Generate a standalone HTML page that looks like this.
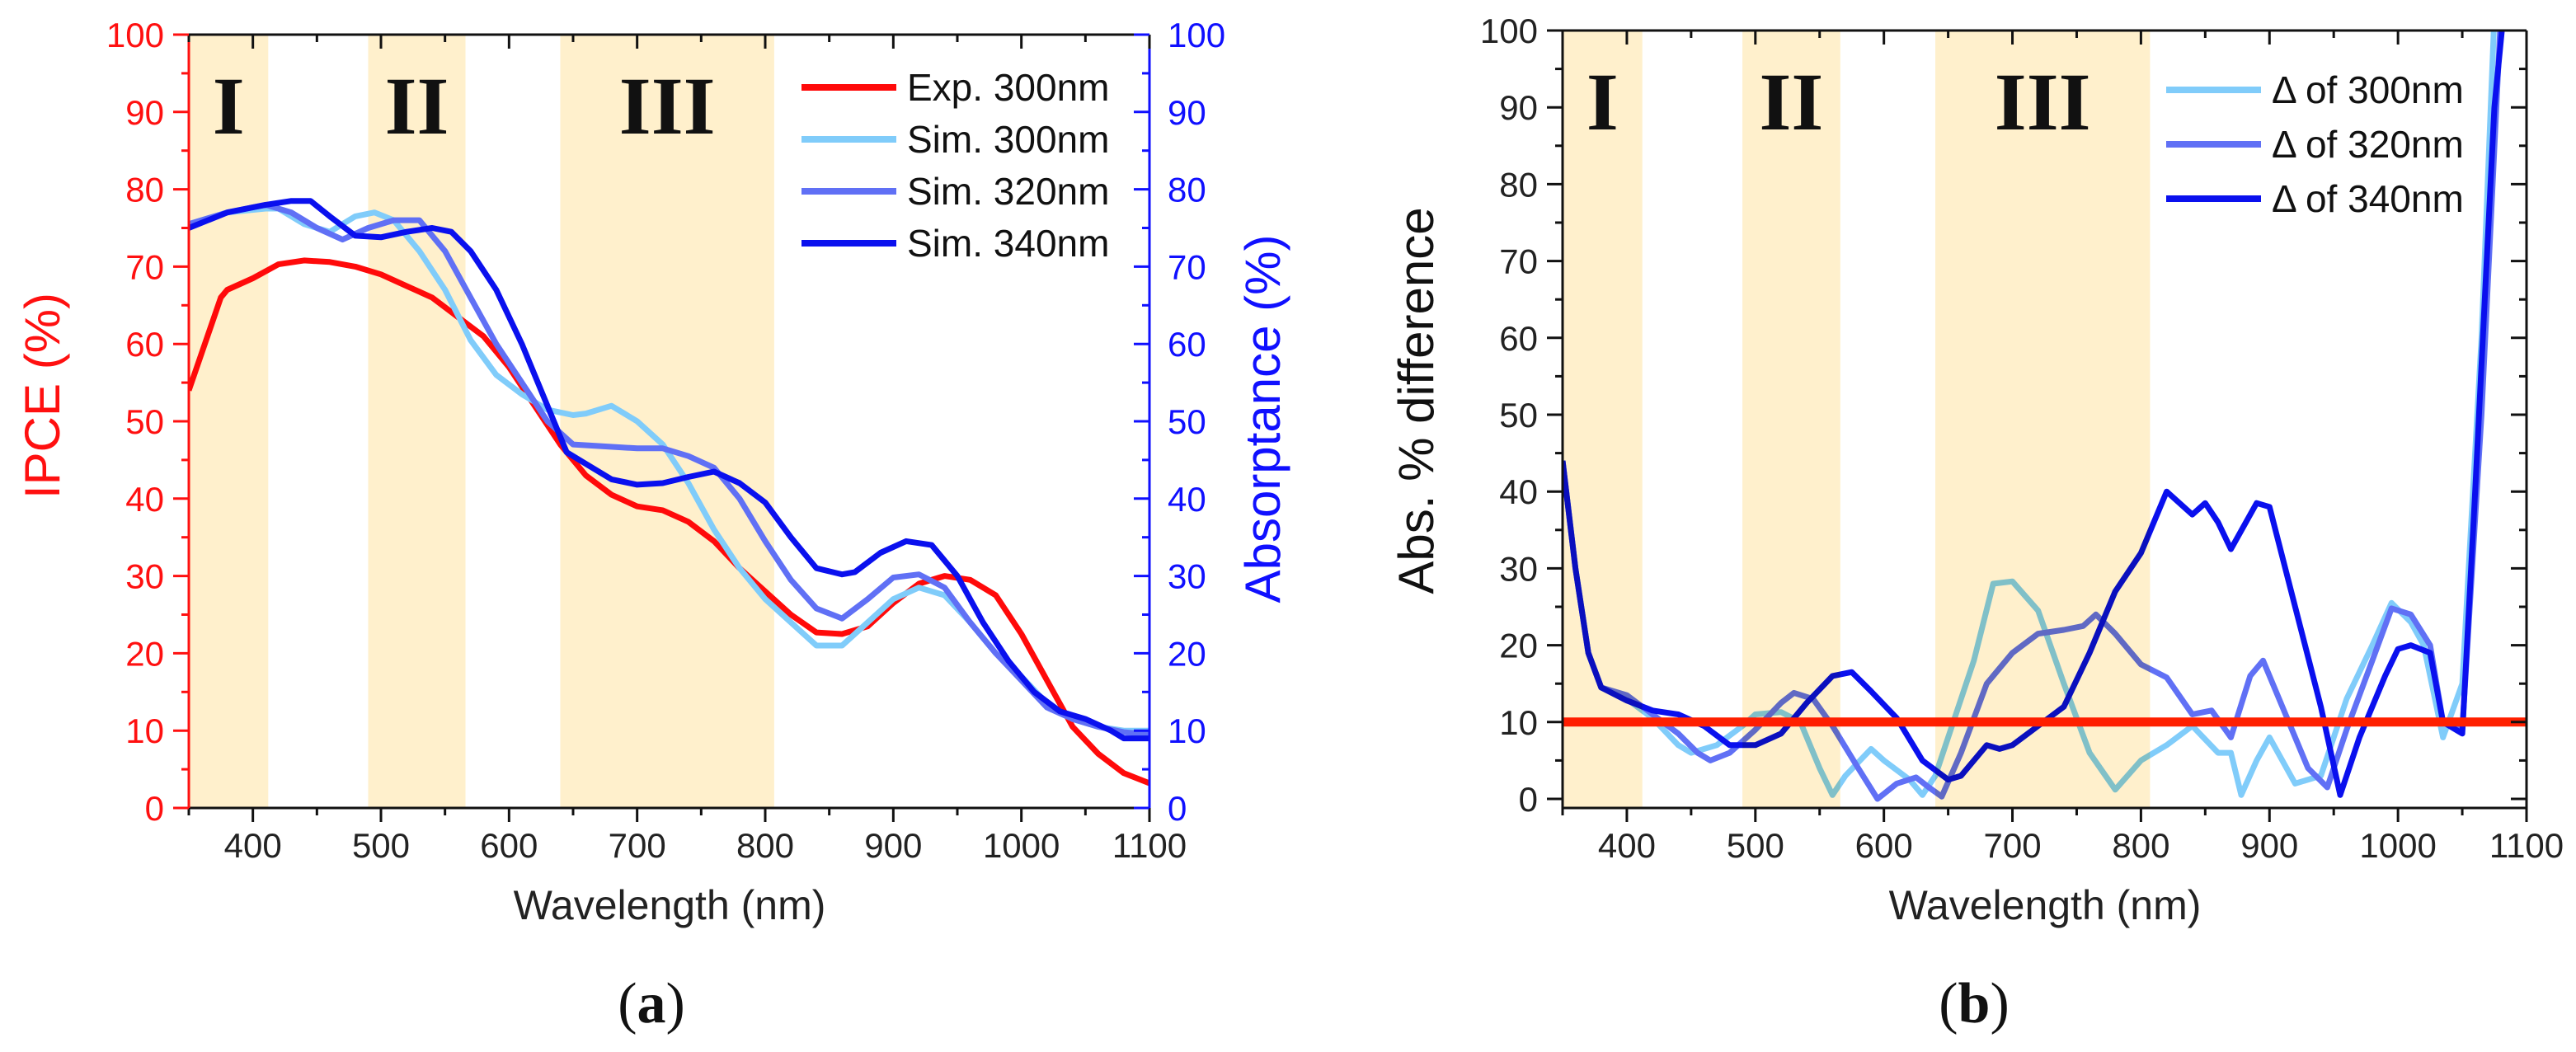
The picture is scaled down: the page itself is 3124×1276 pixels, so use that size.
<!DOCTYPE html>
<html><head><meta charset="utf-8">
<style>
html,body{margin:0;padding:0;background:#fff;}
svg{display:block;font-family:"Liberation Sans",Arial,sans-serif;}
</style></head>
<body>
<svg id="fig" width="3124" height="1276" viewBox="0 0 3124 1276" xmlns="http://www.w3.org/2000/svg">
<defs>
<clipPath id="clipA"><rect x="229" y="42" width="1165" height="938"/></clipPath>
<clipPath id="clipB"><rect x="1895" y="37" width="1169" height="943"/></clipPath>
</defs>
<g id="pa"></g>
<g id="pb"></g>
</svg>
<script>
// ---- Panel (a) data ----
const bandsNm = [[350,412],[490,566],[640,807]];
const bandLabels = ["I","II","III"];
const xTicks = [400,500,600,700,800,900,1000,1100];
const yTicks = [0,10,20,30,40,50,60,70,80,90,100];
const expX = [350,375,380,400,420,440,460,480,500,520,540,560,580,600,620,640,660,680,700,720,740,760,780,800,820,840,860,880,900,920,940,960,980,1000,1020,1040,1060,1080,1100];
const expY = [54,66,67,68.5,70.3,70.8,70.6,70,69,67.5,66,63.5,61,57,52,47,43,40.5,39,38.5,37,34.5,31,28,25,22.7,22.5,23.5,26.5,29,30,29.5,27.5,22.5,16.5,10.5,7,4.5,3.2];
const s300X = [350,380,410,420,440,460,480,495,510,530,550,570,590,610,630,650,660,680,700,720,740,760,780,800,820,840,860,880,900,920,940,960,980,1000,1020,1040,1060,1080,1100];
const s300Y = [75.5,77,77.5,77.5,75.5,74.5,76.5,77,76,72,67,60.5,56,53.5,51.5,50.8,51,52,50,47,42,36,31,27,24,21,21,24,27,28.5,27.5,24,20,17,13.5,11.5,10.5,10,10];
const s320X = [350,380,410,430,450,470,490,510,530,550,570,590,610,630,650,670,700,720,740,760,780,800,820,840,860,880,900,920,940,960,980,1000,1020,1040,1060,1080,1100];
const s320Y = [75.5,77,78,77,75,73.5,75,76,76,72,66,60,55,50,47,46.8,46.5,46.5,45.5,44,40,34.5,29.5,25.8,24.5,27,29.8,30.2,28.5,24,20,16.5,13,11.5,10.5,9.8,9.5];
const s340X = [350,380,410,430,445,460,480,500,520,540,555,570,590,610,630,645,660,680,700,720,740,760,780,800,820,840,860,870,890,910,930,950,970,990,1010,1030,1050,1070,1080,1100];
const s340Y = [75,77,78,78.5,78.5,76.5,74,73.8,74.5,75,74.5,72,67,60,52,46,44.5,42.5,41.8,42,42.8,43.5,42,39.5,35,31,30.2,30.5,33,34.5,34,30,24,19,15,12.5,11.5,10,9,9];
// ---- Panel (b) data ----
const d300X = [350,360,370,380,400,420,440,450,470,490,500,520,535,550,560,570,590,600,620,630,640,650,670,685,700,720,740,760,780,800,820,840,860,870,878,890,900,920,940,960,980,995,1010,1020,1035,1050,1065,1075];
const d300Y = [44,30,19,14.5,13,10.5,7,6,7,9.5,11,11.3,10,4,0.5,3,6.5,5,2.5,0.5,3,8,18,28,28.3,24.5,15,6,1.2,5,7,9.5,6,6,0.5,5,8,2,3,13,20,25.5,23,20,8,15,60,102];
const d320X = [350,360,370,380,400,420,440,455,465,480,500,520,530,545,560,580,595,610,625,635,645,660,680,700,720,740,755,765,780,800,820,840,855,870,885,895,910,930,945,960,980,995,1010,1025,1035,1050,1065,1080];
const d320Y = [44,30,19,14.5,13.5,11,8.5,6,5,6,9,12.5,13.8,13,9.5,4,0,2,2.8,1.5,0.3,6,15,19,21.5,22,22.5,24,21.5,17.5,15.8,11,11.5,8,16,18,12,4,1.5,9,18,24.8,24,20,10,9,50,102];
const d340X = [350,360,370,380,400,420,440,460,480,500,520,540,560,575,590,610,630,650,660,680,690,700,720,740,760,780,800,810,820,840,850,860,870,890,900,920,940,955,970,990,1000,1010,1025,1035,1050,1060,1075,1082];
const d340Y = [44,30,19,14.5,12.8,11.5,11,9.5,7,7,8.5,12.5,16,16.5,14,10.5,5,2.5,3,7,6.5,7,9.5,12,19,27,32,36,40,37,38.5,36,32.5,38.5,38,25,12,0.5,8,16,19.5,20,19,10,8.5,40,90,102];
const threshold = [10];

const NS="http://www.w3.org/2000/svg";
function mk(parent,tag,attrs,txt){const e=document.createElementNS(NS,tag);for(const k in attrs)e.setAttribute(k,attrs[k]);if(txt!==undefined)e.textContent=txt;parent.appendChild(e);return e;}

function panel(g,P){
  const sx=v=>P.x0+(v-350)/(1100-350)*(P.x1-P.x0);
  const sy=v=>P.yz+(v)*(P.y100-P.yz)/100;
  bandsNm.forEach((b,i)=>{
    const r=mk(g,'rect',{x:sx(b[0]),y:P.top,width:sx(b[1])-sx(b[0]),height:P.bot-P.top,fill:'#fff0cc'});
    
    
  });
  const lines=mk(g,'g',{'clip-path':'url(#'+P.clip+')'});
  P.series.forEach(s=>{
    let d='';s.x.forEach((v,i)=>{d+=(i?'L':'M')+sx(v).toFixed(1)+','+sy(s.y[i]).toFixed(1);});
    const p=mk(lines,'path',{d:d,fill:'none',stroke:s.c,'stroke-width':s.w||7,'stroke-linejoin':'round'});
    
    
  });
  if(P.hline){
    const h=mk(lines,'line',{x1:P.x0,x2:P.x1,y1:sy(threshold[0]),y2:sy(threshold[0]),stroke:'#ff2000','stroke-width':11});
    
    
  }
  if(P.multiply){
    bandsNm.forEach(b=>{mk(lines,'rect',{x:sx(b[0]),y:P.top,width:sx(b[1])-sx(b[0]),height:P.bot-P.top,fill:'#fff0cc',style:'mix-blend-mode:multiply'});});
  }
  bandsNm.forEach((b,i)=>{
    const t=mk(g,'text',{x:(sx(b[0])+sx(b[1]))/2,y:P.top+120,'font-family':'Liberation Serif,serif','font-size':100,'font-weight':'bold','text-anchor':'middle',fill:'#111'},bandLabels[i]);
    
    
  });
  mk(g,'line',{x1:P.x0,x2:P.x1,y1:P.top,y2:P.top,stroke:'#111','stroke-width':3});
  mk(g,'line',{x1:P.x0,x2:P.x1,y1:P.bot,y2:P.bot,stroke:'#111','stroke-width':3});
  mk(g,'line',{x1:P.x0,x2:P.x0,y1:P.top,y2:P.bot,stroke:P.lc,'stroke-width':3});
  mk(g,'line',{x1:P.x1,x2:P.x1,y1:P.top,y2:P.bot,stroke:P.rc,'stroke-width':3});
  for(let v=350;v<=1100;v+=50){
    const maj=(v%100===0);const L=maj?17:9;
    mk(g,'line',{x1:sx(v),x2:sx(v),y1:P.bot,y2:P.bot+L,stroke:'#111','stroke-width':3});
    mk(g,'line',{x1:sx(v),x2:sx(v),y1:P.top,y2:P.top+L,stroke:'#111','stroke-width':3});
  }
  xTicks.forEach(v=>{const t=mk(g,'text',{x:sx(v),y:P.bot+60,'font-size':42,'text-anchor':'middle',fill:'#222'},String(v));
    });
  for(let v=0;v<=100;v+=5){
    const maj=(v%10===0);const L=maj?19:9;
    mk(g,'line',{x1:P.x0-L,x2:P.x0,y1:sy(v),y2:sy(v),stroke:P.lc,'stroke-width':3});
    mk(g,'line',{x1:P.x1-L,x2:P.x1,y1:sy(v),y2:sy(v),stroke:P.rc,'stroke-width':3});
  }
  yTicks.forEach(v=>{
    const t=mk(g,'text',{x:P.x0-30,y:sy(v)+15,'font-size':42,'text-anchor':'end',fill:P.ltc},String(v));
    
    if(P.right){const r=mk(g,'text',{x:P.x1+22,y:sy(v)+15,'font-size':42,'text-anchor':'start',fill:P.rc},String(v));
      }
  });
  P.series.forEach((s,i)=>{
    const yy=P.legY+i*P.legDy;
    mk(g,'line',{x1:P.legX,x2:P.legX+115,y1:yy,y2:yy,stroke:s.c,'stroke-width':8});
    const t=mk(g,'text',{x:P.legX+128,y:yy+16,'font-size':46,fill:'#111'},s.label);
    
  });
}

const ga=document.getElementById('pa');
panel(ga,{x0:229,x1:1394,top:42,bot:980,yz:980,y100:42,clip:'clipA',lc:'#ff1010',rc:'#1010ff',ltc:'#ff1010',right:true,
  legX:972,legY:106,legDy:63,
  series:[{x:expX,y:expY,c:'#ff0a0a',name:'exp-300nm-line',label:'Exp. 300nm'},
          {x:s300X,y:s300Y,c:'#80ccfa',name:'sim-300nm-line',label:'Sim. 300nm'},
          {x:s320X,y:s320Y,c:'#6070f5',name:'sim-320nm-line',label:'Sim. 320nm'},
          {x:s340X,y:s340Y,c:'#0a10ee',name:'sim-340nm-line',label:'Sim. 340nm'}]});
const gb=document.getElementById('pb');
panel(gb,{x0:1895,x1:3064,top:37,bot:980,yz:969,y100:37,clip:'clipB',lc:'#111',rc:'#111',ltc:'#222',right:false,hline:true,multiply:true,
  legX:2627,legY:109,legDy:66,
  series:[{x:d300X,y:d300Y,c:'#80ccfa',w:7,name:'delta-300nm-line',label:'\u0394 of 300nm'},
          {x:d320X,y:d320Y,c:'#6070f5',w:7,name:'delta-320nm-line',label:'\u0394 of 320nm'},
          {x:d340X,y:d340Y,c:'#0a10ee',w:7,name:'delta-340nm-line',label:'\u0394 of 340nm'}]});

const svg=document.getElementById('fig');
function label(txt,x,y,rot,size,fill,name,fam){
  const t=mk(svg,'text',{x:x,y:y,'font-size':size,'text-anchor':'middle',fill:fill,transform:rot?'rotate(-90 '+x+' '+y+')':''},txt);
  if(fam)t.setAttribute('font-family',fam);
  
  
  return t;
}
label('IPCE (%)',72,480,true,60,'#ff1010','y-axis-title-ipce');
label('Absorptance (%)',1552,508,true,60,'#1010ff','y-axis-title-absorptance');
label('Wavelength (nm)',812,1115,false,50,'#222','x-axis-title-a');
label('Abs. % difference',1738,486,true,60,'#111','y-axis-title-b');
label('Wavelength (nm)',2480,1115,false,50,'#222','x-axis-title-b');
const ca=label('',790,1240,false,70,'#111','caption-a','Liberation Serif,serif');
ca.innerHTML='(<tspan font-weight="bold">a</tspan>)';
const cb=label('',2394,1240,false,70,'#111','caption-b','Liberation Serif,serif');
cb.innerHTML='(<tspan font-weight="bold">b</tspan>)';
</script>
</body></html>
